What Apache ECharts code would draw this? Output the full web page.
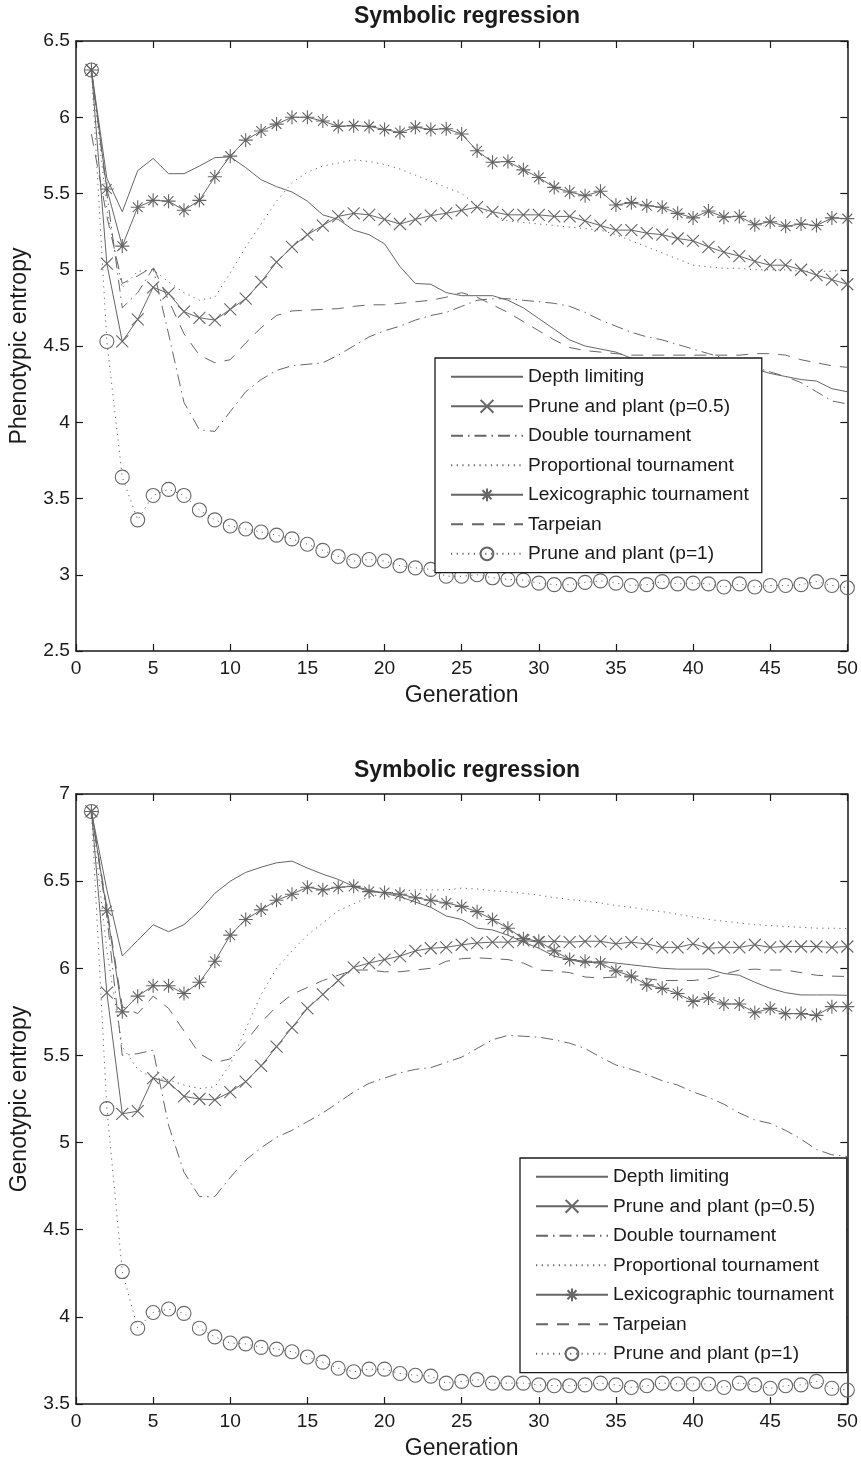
<!DOCTYPE html>
<html>
<head>
<meta charset="utf-8">
<script src="https://cdn.jsdelivr.net/npm/echarts@6/dist/echarts.min.js"></script>
<style>
  html, body { margin: 0; padding: 0; background: #fff; }
  #chart { width: 861px; height: 1463px; }
</style>
</head>
<body>
<div id="chart"></div>
<script>
'use strict';

// generations on the x axis (shared by both panels)
const GENERATIONS = [1, 2, 3, 4, 5, 6, 7, 8, 9, 10, 11, 12, 13, 14, 15, 16, 17, 18, 19, 20,
  21, 22, 23, 24, 25, 26, 27, 28, 29, 30, 31, 32, 33, 34, 35, 36, 37, 38, 39, 40,
  41, 42, 43, 44, 45, 46, 47, 48, 49, 50];

// --- top panel: phenotypic entropy ---
const depthPheno = [6.31, 5.60, 5.38, 5.65, 5.73, 5.63, 5.63, 5.68, 5.735, 5.74, 5.67, 5.59, 5.545, 5.51, 5.45, 5.36, 5.33, 5.26, 5.23, 5.17,
  5.02, 4.91, 4.905, 4.85, 4.83, 4.83, 4.83, 4.80, 4.75, 4.68, 4.61, 4.54, 4.50, 4.48, 4.46, 4.42, 4.41, 4.40, 4.39, 4.38,
  4.37, 4.36, 4.35, 4.35, 4.32, 4.30, 4.28, 4.27, 4.22, 4.20];
const prunePlantHalfPheno = [6.31, 5.04, 4.53, 4.675, 4.885, 4.845, 4.725, 4.685, 4.67, 4.74, 4.81, 4.92, 5.05, 5.15, 5.23, 5.29, 5.35, 5.37, 5.36, 5.33,
  5.30, 5.33, 5.355, 5.37, 5.39, 5.41, 5.38, 5.36, 5.36, 5.36, 5.35, 5.35, 5.32, 5.29, 5.26, 5.26, 5.24, 5.23, 5.205, 5.19,
  5.15, 5.115, 5.09, 5.055, 5.03, 5.03, 5.00, 4.965, 4.935, 4.905];
const doublePheno = [6.31, 5.50, 4.75, 4.85, 5.01, 4.58, 4.13, 3.95, 3.94, 4.07, 4.20, 4.28, 4.34, 4.37, 4.38, 4.39, 4.44, 4.50, 4.56, 4.60,
  4.63, 4.67, 4.70, 4.72, 4.76, 4.80, 4.81, 4.81, 4.80, 4.79, 4.78, 4.76, 4.72, 4.67, 4.63, 4.59, 4.56, 4.54, 4.51, 4.48,
  4.45, 4.42, 4.39, 4.36, 4.33, 4.30, 4.26, 4.20, 4.14, 4.12];
const proportionalPheno = [6.31, 5.40, 4.88, 4.99, 5.00, 4.92, 4.85, 4.80, 4.82, 4.98, 5.15, 5.30, 5.45, 5.57, 5.64, 5.68, 5.70, 5.72, 5.71, 5.69,
  5.66, 5.62, 5.58, 5.54, 5.50, 5.42, 5.36, 5.32, 5.31, 5.30, 5.29, 5.28, 5.27, 5.26, 5.23, 5.19, 5.15, 5.11, 5.07, 5.03,
  5.02, 5.01, 5.01, 5.00, 5.00, 5.00, 4.99, 4.99, 4.99, 5.00];
const lexicoPheno = [6.31, 5.53, 5.155, 5.41, 5.455, 5.45, 5.39, 5.455, 5.61, 5.745, 5.85, 5.91, 5.955, 6.00, 6.00, 5.975, 5.94, 5.945, 5.94, 5.92,
  5.90, 5.935, 5.92, 5.925, 5.89, 5.78, 5.705, 5.71, 5.655, 5.605, 5.54, 5.51, 5.485, 5.515, 5.425, 5.44, 5.42, 5.41, 5.37, 5.34,
  5.385, 5.345, 5.35, 5.295, 5.315, 5.285, 5.30, 5.29, 5.34, 5.335];
const tarpeianPheno = [5.89, 5.35, 4.91, 4.96, 5.02, 4.80, 4.58, 4.44, 4.39, 4.41, 4.52, 4.62, 4.70, 4.73, 4.735, 4.74, 4.745, 4.76, 4.77, 4.77,
  4.78, 4.79, 4.80, 4.82, 4.85, 4.82, 4.77, 4.72, 4.66, 4.60, 4.54, 4.49, 4.47, 4.46, 4.45, 4.44, 4.44, 4.44, 4.44, 4.44,
  4.44, 4.44, 4.44, 4.45, 4.45, 4.44, 4.41, 4.39, 4.37, 4.36];
const prunePlantFullPheno = [6.31, 4.53, 3.64, 3.36, 3.52, 3.56, 3.52, 3.425, 3.36, 3.32, 3.30, 3.28, 3.26, 3.235, 3.20, 3.16, 3.12, 3.09, 3.10, 3.09,
  3.06, 3.045, 3.035, 2.99, 2.99, 3.00, 2.98, 2.97, 2.965, 2.945, 2.935, 2.935, 2.95, 2.96, 2.945, 2.93, 2.935, 2.955, 2.94, 2.945,
  2.94, 2.92, 2.94, 2.92, 2.93, 2.93, 2.935, 2.955, 2.93, 2.915];

// --- bottom panel: genotypic entropy ---
const depthGeno = [6.90, 6.45, 6.07, 6.16, 6.25, 6.21, 6.25, 6.33, 6.43, 6.50, 6.55, 6.58, 6.605, 6.615, 6.575, 6.54, 6.51, 6.47, 6.45, 6.43,
  6.41, 6.38, 6.35, 6.30, 6.28, 6.23, 6.22, 6.19, 6.15, 6.115, 6.07, 6.05, 6.03, 6.04, 6.03, 6.02, 6.01, 6.00, 5.995, 5.995,
  5.995, 5.97, 5.96, 5.92, 5.885, 5.86, 5.847, 5.847, 5.847, 5.845];
const prunePlantHalfGeno = [6.90, 5.86, 5.165, 5.18, 5.37, 5.345, 5.265, 5.25, 5.245, 5.29, 5.35, 5.44, 5.55, 5.66, 5.77, 5.85, 5.93, 6.005, 6.03, 6.05,
  6.07, 6.10, 6.115, 6.12, 6.135, 6.145, 6.15, 6.15, 6.16, 6.15, 6.155, 6.15, 6.155, 6.155, 6.14, 6.15, 6.14, 6.12, 6.12, 6.14,
  6.115, 6.12, 6.12, 6.135, 6.12, 6.125, 6.125, 6.125, 6.12, 6.125];
const doubleGeno = [6.90, 6.30, 5.50, 5.51, 5.53, 5.10, 4.83, 4.69, 4.69, 4.80, 4.90, 4.97, 5.03, 5.07, 5.12, 5.17, 5.23, 5.29, 5.34, 5.37,
  5.40, 5.42, 5.43, 5.46, 5.49, 5.54, 5.59, 5.615, 5.61, 5.605, 5.59, 5.57, 5.54, 5.49, 5.445, 5.42, 5.39, 5.355, 5.33, 5.29,
  5.26, 5.22, 5.17, 5.13, 5.11, 5.07, 5.02, 4.96, 4.93, 4.92];
const proportionalGeno = [6.90, 6.10, 5.55, 5.42, 5.37, 5.36, 5.33, 5.31, 5.32, 5.45, 5.65, 5.85, 6.00, 6.10, 6.19, 6.26, 6.33, 6.37, 6.41, 6.43,
  6.44, 6.45, 6.45, 6.45, 6.46, 6.455, 6.445, 6.44, 6.43, 6.42, 6.405, 6.395, 6.385, 6.375, 6.36, 6.35, 6.335, 6.325, 6.31, 6.295,
  6.28, 6.27, 6.26, 6.25, 6.245, 6.24, 6.235, 6.23, 6.23, 6.228];
const lexicoGeno = [6.90, 6.33, 5.75, 5.84, 5.90, 5.90, 5.855, 5.92, 6.04, 6.19, 6.28, 6.335, 6.39, 6.425, 6.465, 6.45, 6.465, 6.47, 6.44, 6.435,
  6.425, 6.405, 6.39, 6.375, 6.355, 6.325, 6.28, 6.23, 6.17, 6.155, 6.10, 6.05, 6.04, 6.03, 5.985, 5.955, 5.905, 5.885, 5.855, 5.81,
  5.83, 5.795, 5.795, 5.745, 5.77, 5.74, 5.74, 5.73, 5.78, 5.78];
const tarpeianGeno = [6.90, 6.35, 5.78, 5.74, 5.84, 5.77, 5.64, 5.51, 5.46, 5.48, 5.58, 5.69, 5.78, 5.85, 5.89, 5.93, 5.96, 5.99, 5.99, 5.98,
  5.98, 5.99, 6.00, 6.04, 6.055, 6.06, 6.055, 6.05, 6.03, 5.99, 5.985, 5.975, 5.95, 5.945, 5.95, 5.95, 5.94, 5.93, 5.93, 5.93,
  5.94, 5.965, 5.99, 5.995, 5.99, 5.99, 5.975, 5.96, 5.955, 5.953];
const prunePlantFullGeno = [6.90, 5.195, 4.26, 3.935, 4.025, 4.045, 4.02, 3.935, 3.885, 3.85, 3.845, 3.825, 3.815, 3.80, 3.77, 3.74, 3.705, 3.685, 3.70, 3.70,
  3.675, 3.665, 3.66, 3.62, 3.63, 3.64, 3.62, 3.62, 3.62, 3.61, 3.605, 3.605, 3.61, 3.62, 3.61, 3.595, 3.605, 3.62, 3.615, 3.615,
  3.615, 3.595, 3.62, 3.61, 3.59, 3.605, 3.61, 3.63, 3.59, 3.58];

const GREY = '#666';
const INK = '#1a1a1a';
const FONT = "'Liberation Sans', Arial, Helvetica, sans-serif";

// matlab-ish markers, drawn as stroked paths
const X_MARK = 'path://M0,0L10,10M0,10L10,0';
const STAR_MARK = 'path://M5,0L5,10M0,5L10,5M1.5,1.5L8.5,8.5M1.5,8.5L8.5,1.5';
const RING_MARK = 'path://M10,5A5,5,0,1,1,0,5A5,5,0,1,1,10,5Z';

const DASHED = [12, 9];
const DASH_DOT = [12, 5, 1.5, 5];
const DOTTED = [1.2, 4.5];

const METHODS = [
  { name: 'Depth limiting', line: 'solid', symbol: 'none' },
  { name: 'Prune and plant (p=0.5)', line: 'solid', symbol: X_MARK, size: 12 },
  { name: 'Double tournament', line: DASH_DOT, symbol: 'none' },
  { name: 'Proportional tournament', line: DOTTED, symbol: 'none' },
  { name: 'Lexicographic tournament', line: 'solid', symbol: STAR_MARK, size: 14 },
  { name: 'Tarpeian', line: DASHED, symbol: 'none' },
  { name: 'Prune and plant (p=1)', line: DOTTED, symbol: RING_MARK, size: 14 },
];

const PANELS = [
  {
    title: 'Symbolic regression', yName: 'Phenotypic entropy', yMin: 2.5, yMax: 6.5,
    top: 41, titleTop: 0, legend: { left: 435, top: 358 },
    values: [depthPheno, prunePlantHalfPheno, doublePheno, proportionalPheno, lexicoPheno, tarpeianPheno, prunePlantFullPheno],
  },
  {
    title: 'Symbolic regression', yName: 'Genotypic entropy', yMin: 3.5, yMax: 7,
    top: 794, titleTop: 754, legend: { left: 520, top: 1158 },
    values: [depthGeno, prunePlantHalfGeno, doubleGeno, proportionalGeno, lexicoGeno, tarpeianGeno, prunePlantFullGeno],
  },
];

const PLOT_LEFT = 75;
const PLOT_WIDTH = 774;
const PLOT_HEIGHT = 610;

function axisLine() {
  return { show: true, onZero: false, lineStyle: { color: INK, width: 1.5 } };
}

function axisTick() {
  return { show: true, inside: true, length: 7, lineStyle: { color: INK, width: 1.2 } };
}

function xAxes(gridIndex) {
  const base = {
    type: 'value', gridIndex, min: 0, max: 50, interval: 5,
    axisLine: axisLine(), axisTick: axisTick(), splitLine: { show: false },
  };
  return [
    {
      ...base, position: 'bottom',
      name: 'Generation', nameLocation: 'middle', nameGap: 33,
      nameTextStyle: { fontSize: 23, color: INK, fontFamily: FONT },
      axisLabel: { fontSize: 19.2, color: INK, margin: 8, fontFamily: FONT },
    },
    { ...base, position: 'top', axisLabel: { show: false } },
  ];
}

function yAxes(gridIndex, panel) {
  const base = {
    type: 'value', gridIndex, min: panel.yMin, max: panel.yMax, interval: 0.5,
    axisLine: axisLine(), axisTick: axisTick(), splitLine: { show: false },
  };
  return [
    {
      ...base, position: 'left',
      name: panel.yName, nameLocation: 'middle', nameGap: 45,
      nameTextStyle: { fontSize: 23, color: INK, fontFamily: FONT },
      axisLabel: { fontSize: 19.2, color: INK, margin: 6, fontFamily: FONT },
    },
    { ...base, position: 'right', axisLabel: { show: false } },
  ];
}

function lineSeries(method, values, axisIndex) {
  const marked = method.symbol !== 'none';
  return {
    type: 'line',
    name: method.name,
    xAxisIndex: axisIndex,
    yAxisIndex: axisIndex,
    data: GENERATIONS.map((g, i) => [g, values[i]]),
    symbol: method.symbol,
    symbolSize: method.size || 1,
    showSymbol: marked,
    lineStyle: { color: GREY, width: 1, type: method.line },
    itemStyle: { color: 'transparent', borderColor: marked ? GREY : 'transparent', borderWidth: marked ? 1.1 : 0 },
    emphasis: { disabled: true },
    animation: false,
    silent: true,
  };
}

function legendFor(pos) {
  return {
    orient: 'vertical',
    left: pos.left,
    top: pos.top,
    data: METHODS.map((m) => m.name),
    itemWidth: 72,
    itemHeight: 16,
    itemGap: 10.5,
    padding: [9.3, 13, 9.3, 15],
    backgroundColor: '#fff',
    borderColor: INK,
    borderWidth: 1.3,
    borderRadius: 0,
    selectedMode: false,
    textStyle: { fontSize: 19.2, color: INK, fontFamily: FONT },
  };
}

function buildOption() {
  const option = {
    backgroundColor: '#fff',
    animation: false,
    textStyle: { fontFamily: FONT },
    title: [], grid: [], xAxis: [], yAxis: [], legend: [], series: [],
  };
  PANELS.forEach((panel, p) => {
    option.title.push({
      text: panel.title, left: PLOT_LEFT + PLOT_WIDTH / 2, top: panel.titleTop, textAlign: 'center',
      textStyle: { fontSize: 23, fontWeight: 'bold', color: INK, fontFamily: FONT },
    });
    option.grid.push({ left: PLOT_LEFT, top: panel.top, width: PLOT_WIDTH, height: PLOT_HEIGHT });
    option.xAxis.push(...xAxes(p));
    option.yAxis.push(...yAxes(p, panel));
    option.legend.push(legendFor(panel.legend));
    METHODS.forEach((m, i) => {
      option.series.push(lineSeries(m, panel.values[i], p * 2));
    });
  });
  return option;
}

const chart = echarts.init(document.getElementById('chart'), null, { renderer: 'canvas' });
chart.setOption(buildOption());
</script>
</body>
</html>
